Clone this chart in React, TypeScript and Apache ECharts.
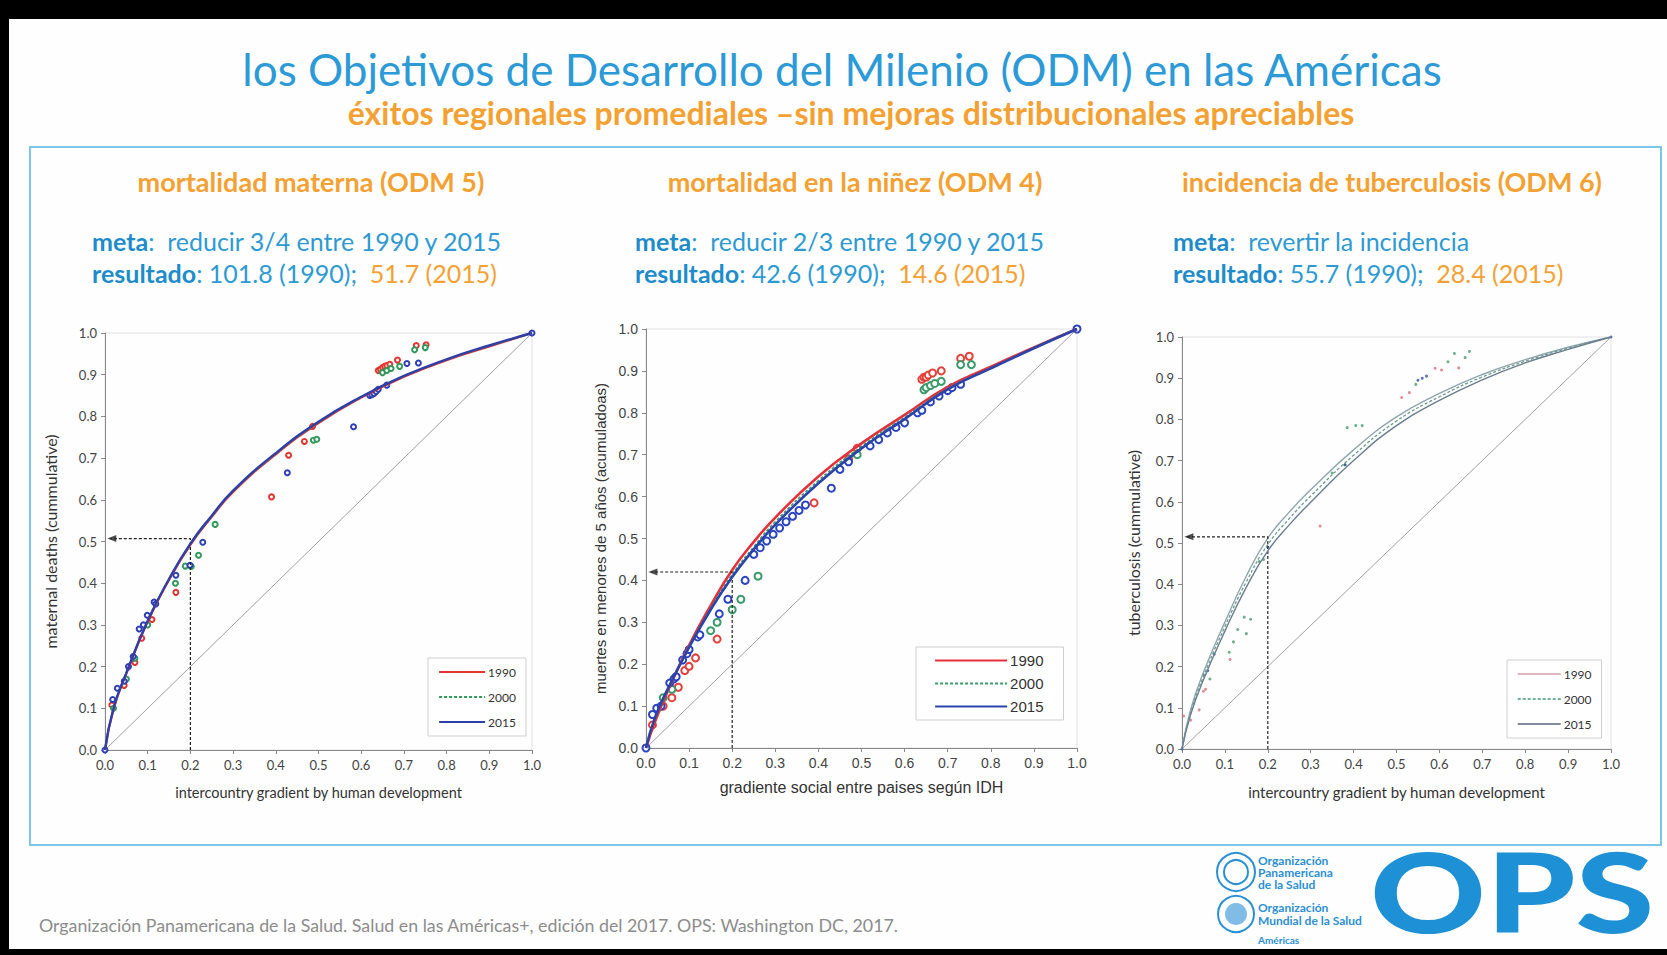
import React, { useEffect, useRef } from "react";
import * as echarts from "echarts";

const FONT = "Lato, 'Open Sans', sans-serif";
const ARIAL = "'Liberation Sans', Arial, sans-serif";

const years = ["1990", "2000", "2015"];
const curveX = [0, 0.02, 0.05, 0.1, 0.15, 0.2, 0.25, 0.3, 0.4, 0.5, 0.6, 0.7, 0.8, 0.9, 1];

// chart 1: maternal mortality
const mm1990 = [0, 0.098, 0.183, 0.308, 0.408, 0.492, 0.559, 0.619, 0.709, 0.784, 0.845, 0.895, 0.935, 0.968, 1];
const mm2000 = [0, 0.099, 0.184, 0.309, 0.409, 0.493, 0.56, 0.62, 0.71, 0.785, 0.846, 0.896, 0.936, 0.969, 1];
const mm2015 = [0, 0.1, 0.185, 0.31, 0.41, 0.495, 0.562, 0.622, 0.712, 0.787, 0.847, 0.897, 0.937, 0.97, 1];
const mmPts1990 = [[0.016, 0.108], [0.045, 0.155], [0.07, 0.21], [0.086, 0.268], [0.11, 0.313], [0.166, 0.378], [0.39, 0.607], [0.43, 0.707], [0.467, 0.74], [0.486, 0.776], [0.64, 0.91], [0.645, 0.913], [0.65, 0.917], [0.655, 0.92], [0.66, 0.922], [0.667, 0.925], [0.685, 0.935], [0.729, 0.97], [0.752, 0.972]];
const mmPts2000 = [[0.02, 0.1], [0.05, 0.17], [0.07, 0.22], [0.1, 0.3], [0.165, 0.4], [0.188, 0.441], [0.202, 0.44], [0.219, 0.467], [0.258, 0.541], [0.488, 0.743], [0.496, 0.745], [0.65, 0.905], [0.66, 0.91], [0.67, 0.915], [0.69, 0.92], [0.725, 0.96], [0.75, 0.965]];
const mmPts2015 = [[0, 0], [0.018, 0.121], [0.029, 0.148], [0.045, 0.165], [0.055, 0.2], [0.066, 0.224], [0.08, 0.29], [0.09, 0.3], [0.099, 0.323], [0.115, 0.355], [0.119, 0.35], [0.166, 0.419], [0.199, 0.443], [0.229, 0.498], [0.427, 0.665], [0.582, 0.775], [0.62, 0.85], [0.625, 0.852], [0.63, 0.855], [0.635, 0.86], [0.64, 0.865], [0.66, 0.875], [0.707, 0.927], [0.734, 0.928], [1, 1]];

// chart 2: child mortality
const cm1990 = [0, 0.06, 0.135, 0.245, 0.34, 0.425, 0.492, 0.55, 0.648, 0.727, 0.795, 0.862, 0.91, 0.956, 1];
const cm2000 = [0, 0.065, 0.137, 0.242, 0.334, 0.414, 0.48, 0.54, 0.638, 0.72, 0.789, 0.858, 0.907, 0.955, 1];
const cm2015 = [0, 0.07, 0.14, 0.24, 0.33, 0.408, 0.474, 0.533, 0.632, 0.715, 0.785, 0.856, 0.906, 0.954, 1];
const cmPts1990 = [[0.015, 0.055], [0.04, 0.1], [0.06, 0.12], [0.075, 0.145], [0.09, 0.185], [0.1, 0.195], [0.115, 0.215], [0.165, 0.26], [0.39, 0.585], [0.47, 0.69], [0.49, 0.715], [0.64, 0.88], [0.645, 0.885], [0.65, 0.885], [0.655, 0.89], [0.665, 0.895], [0.685, 0.9], [0.73, 0.93], [0.75, 0.935]];
const cmPts2000 = [[0.04, 0.12], [0.06, 0.14], [0.15, 0.28], [0.165, 0.3], [0.2, 0.33], [0.22, 0.355], [0.26, 0.41], [0.49, 0.7], [0.645, 0.855], [0.65, 0.86], [0.66, 0.865], [0.67, 0.87], [0.685, 0.875], [0.73, 0.915], [0.755, 0.915]];
const cmPts2015 = [[0, 0], [0.015, 0.08], [0.025, 0.095], [0.035, 0.1], [0.055, 0.155], [0.065, 0.165], [0.07, 0.17], [0.085, 0.21], [0.095, 0.225], [0.1, 0.235], [0.12, 0.265], [0.125, 0.27], [0.17, 0.32], [0.19, 0.355], [0.23, 0.4], [0.25, 0.462], [0.265, 0.478], [0.28, 0.494], [0.295, 0.51], [0.31, 0.525], [0.325, 0.54], [0.34, 0.553], [0.355, 0.567], [0.37, 0.58], [0.43, 0.62], [0.45, 0.665], [0.47, 0.683], [0.52, 0.721], [0.54, 0.736], [0.56, 0.752], [0.58, 0.765], [0.6, 0.776], [0.63, 0.8], [0.64, 0.806], [0.66, 0.826], [0.68, 0.84], [0.7, 0.853], [0.71, 0.86], [0.73, 0.868], [1, 1]];

// chart 3: tuberculosis
const tb1990 = [0, 0.095, 0.186, 0.308, 0.42, 0.512, 0.575, 0.629, 0.726, 0.806, 0.863, 0.909, 0.945, 0.975, 1];
const tb2000 = [0, 0.088, 0.176, 0.297, 0.406, 0.496, 0.559, 0.614, 0.713, 0.796, 0.855, 0.903, 0.941, 0.973, 1];
const tb2015 = [0, 0.083, 0.168, 0.286, 0.393, 0.481, 0.544, 0.599, 0.7, 0.785, 0.846, 0.896, 0.937, 0.97, 1];
const tbPts1990 = [[0.004, 0.08], [0.02, 0.07], [0.04, 0.095], [0.05, 0.14], [0.055, 0.145], [0.112, 0.217], [0.322, 0.541], [0.512, 0.853], [0.53, 0.865], [0.59, 0.924], [0.605, 0.92], [0.645, 0.925]];
const tbPts2000 = [[0.065, 0.17], [0.11, 0.235], [0.12, 0.26], [0.13, 0.29], [0.145, 0.32], [0.15, 0.28], [0.16, 0.315], [0.18, 0.455], [0.19, 0.46], [0.35, 0.67], [0.38, 0.69], [0.385, 0.78], [0.405, 0.785], [0.42, 0.785], [0.545, 0.885], [0.62, 0.94], [0.635, 0.96], [0.66, 0.95], [0.67, 0.965]];
const tbPts2015 = [[0, 0], [0.05, 0.18], [0.06, 0.19], [0.075, 0.23], [0.2, 0.49], [0.38, 0.69], [0.55, 0.895], [0.56, 0.9], [0.57, 0.905], [1, 1]];

const guideY = [0.507, 0.42, 0.515];

const zip = (xs: number[], ys: number[]) => xs.map((x, i) => [x, ys[i]]);

export default function App() {
  const ref = useRef<HTMLDivElement>(null);
  useEffect(() => {
    document.body.style.margin = "0";
    const chart = echarts.init(ref.current!, null, { renderer: "svg" });

    const grids = [
      { left: 105, top: 333, width: 427, height: 417 },
      { left: 646, top: 329, width: 431, height: 419 },
      { left: 1182, top: 337, width: 429, height: 412 },
    ];
    const axisFont = [FONT, ARIAL, FONT];
    const axisSize = [13, 14, 13];
    const xNames = ["intercountry gradient by human development", "gradiente social entre paises según IDH", "intercountry gradient by human development"];
    const yNames = ["maternal deaths (cummulative)", "muertes en menores de 5 años (acumuladoas)", "tuberculosis (cummulative)"];
    const yNameSize = [16, 15, 16];
    const xNameSize = [14.5, 16, 15];
    const yGaps = [47, 38, 41];
    const xGaps = [35, 31, 35];

    const xAxis = grids.map((_, i) => ({
      type: "value", gridIndex: i, min: 0, max: 1, interval: 0.1,
      name: xNames[i], nameLocation: "middle", nameGap: xGaps[i],
      nameTextStyle: { fontFamily: axisFont[i], fontSize: xNameSize[i], color: "#333" },
      axisLine: { show: true, lineStyle: { color: "#888", width: 1 } },
      axisTick: { show: true, length: 4, lineStyle: { color: "#888" } },
      axisLabel: { formatter: (v: number) => v.toFixed(1), fontFamily: axisFont[i], fontSize: axisSize[i], color: "#444", margin: 8 },
      splitLine: { show: false },
    }));
    const yAxis = grids.map((_, i) => ({
      type: "value", gridIndex: i, min: 0, max: 1, interval: 0.1,
      name: yNames[i], nameLocation: "middle", nameGap: yGaps[i],
      nameTextStyle: { fontFamily: axisFont[i], fontSize: yNameSize[i], color: "#333" },
      axisLine: { show: true, lineStyle: { color: "#888", width: 1 } },
      axisTick: { show: true, length: 4, lineStyle: { color: "#888" } },
      axisLabel: { formatter: (v: number) => v.toFixed(1), fontFamily: axisFont[i], fontSize: axisSize[i], color: "#444", margin: 8 },
      splitLine: { show: false },
    }));

    const curveSets = [
      [mm1990, mm2000, mm2015],
      [cm1990, cm2000, cm2015],
      [tb1990, tb2000, tb2015],
    ];
    const ptSets = [
      [mmPts1990, mmPts2000, mmPts2015],
      [cmPts1990, cmPts2000, cmPts2015],
      [tbPts1990, tbPts2000, tbPts2015],
    ];
    const curveColors = [
      ["#E3342F", "#2F9A5A", "#2E3FA8"],
      ["#E3303A", "#3A9A6A", "#2A44AA"],
      ["#8FA6AE", "#6C9C8C", "#6A7E92"],
    ];
    const legendColors = [
      ["#E3342F", "#2F9A5A", "#2E3FA8"],
      ["#E3303A", "#3A9A6A", "#2A44AA"],
      ["#D4A0AA", "#3F9A70", "#5A6480"],
    ];
    const ptColors = [
      ["#E3342F", "#2F9A5A", "#2E3FB8"],
      ["#E3403A", "#3A9A6A", "#2A44C0"],
      ["#D9707A", "#4A9A6A", "#3050A0"],
    ];
    const curveWidths = [[2.2, 1.4, 2.4], [2.6, 1.6, 2.6], [1.4, 1.3, 1.4]];
    const ptSizes = [5, 7, 3];
    const suffix = ["", " ", "  "];

    const series: any[] = [];
    grids.forEach((_, g) => {
      series.push({
        type: "line", name: "diag" + g, xAxisIndex: g, yAxisIndex: g, data: [[0, 0], [1, 1]],
        symbol: "none", silent: true, lineStyle: { color: "#A0A0A0", width: 1 }, z: 1,
      });
      series.push({
        type: "line", name: "guide" + g, xAxisIndex: g, yAxisIndex: g,
        data: [[0.2, 0], [0.2, guideY[g]], [0.012, guideY[g]]],
        symbol: "none", silent: true, lineStyle: { color: "#222", width: 1.2, type: [3, 2] }, z: 4,
      });
      series.push({
        type: "scatter", name: "arrow" + g, xAxisIndex: g, yAxisIndex: g,
        data: [[0.016, guideY[g]]], symbol: "triangle", symbolRotate: 90, symbolSize: [7, 9],
        itemStyle: { color: "#222" }, silent: true, z: 4,
      });
      years.forEach((y, k) => {
        series.push({
          type: "scatter", name: "pts" + g + y, xAxisIndex: g, yAxisIndex: g,
          data: ptSets[g][k], symbol: g === 2 ? "circle" : "emptyCircle", symbolSize: ptSizes[g],
          itemStyle: { color: ptColors[g][k], borderWidth: g === 2 ? 0 : g === 1 ? 1.6 : 1.3, opacity: g === 2 ? 0.8 : 1 },
          silent: true, z: 2,
        });
      });
      years.forEach((y, k) => {
        series.push({
          type: "line", name: y + suffix[g], xAxisIndex: g, yAxisIndex: g,
          data: zip(curveX, curveSets[g][k]), symbol: "none", smooth: 0.5,
          lineStyle: { color: curveColors[g][k], width: curveWidths[g][k], type: k === 1 ? [3, 2] : "solid" },
          itemStyle: { color: curveColors[g][k] },
          z: 3 + k, silent: true,
        });
      });
    });

    const legendBase = (g: number, left: number, top: number, itemWidth: number, fontSize: number, itemGap: number, padding: number[], font: string) => ({
      data: years.map((y, k) => ({
        name: y + suffix[g],
        lineStyle: { color: legendColors[g][k], width: g === 2 ? 1.4 : 2.2, type: k === 1 ? [3, 2] : "solid" },
      })),
      orient: "vertical", left, top, itemWidth, itemHeight: 10, itemGap, padding,
      itemStyle: { opacity: 0 },
      backgroundColor: "#fff", borderColor: "#CFCFCF", borderWidth: 1, borderRadius: 0,
      formatter: (n: string) => n.trim(), selectedMode: false,
      textStyle: { fontFamily: font, fontSize, color: "#333", padding: [0, 0, 0, -2] },
    });

    const legend = [
      legendBase(0, 428, 658, 46, 12, 13, [8, 10, 8, 10], FONT),
      legendBase(1, 916, 647, 72, 15, 8, [6, 20, 6, 18], ARIAL),
      legendBase(2, 1507, 660, 43, 12, 13, [8, 10, 8, 10], FONT),
    ];

    const blue = "#2C9AD6";
    const orange = "#F4A133";
    const MS = 25;
    const metaRich = {
      b: { fontFamily: FONT, fontSize: MS, fontWeight: "bold", fill: "#1E8CCB", lineHeight: 32 },
      n: { fontFamily: FONT, fontSize: MS, fill: "#2E9AD3", lineHeight: 32 },
      o: { fontFamily: FONT, fontSize: MS, fill: orange, lineHeight: 32 },
    };
    const metas = [
      { x: 92, t: "{b|meta}{n|:  reducir 3/4 entre 1990 y 2015}\n{b|resultado}{n|: 101.8 (1990);  }{o|51.7 (2015)}" },
      { x: 635, t: "{b|meta}{n|:  reducir 2/3 entre 1990 y 2015}\n{b|resultado}{n|: 42.6 (1990);  }{o|14.6 (2015)}" },
      { x: 1173, t: "{b|meta}{n|:  revertir la incidencia}\n{b|resultado}{n|: 55.7 (1990);  }{o|28.4 (2015)}" },
    ];
    const panelTitles = [
      { x: 311, t: "mortalidad materna (ODM 5)" },
      { x: 855, t: "mortalidad en la niñez (ODM 4)" },
      { x: 1392, t: "incidencia de tuberculosis (ODM 6)" },
    ];

    const txt = (x: number, y: number, text: string, font: string, fill: string, align = "center", extra: any = {}) => ({
      type: "text", x, y, silent: true,
      style: { text, font, fill, align, verticalAlign: "middle", textAlign: align, textVerticalAlign: "middle", ...extra },
    });

    const graphic: any[] = [
      { type: "rect", shape: { x: 0, y: 0, width: 1667, height: 955 }, style: { fill: "#FEFEFE" }, z: -10, silent: true },
      { type: "rect", shape: { x: 30, y: 147, width: 1631, height: 698 }, style: { fill: "none", stroke: "#7CC6E8", lineWidth: 2 }, silent: true },
      txt(842, 69, "los Objetivos de Desarrollo del Milenio (ODM) en las Américas", `44px ${FONT}`, blue),
      txt(851, 112, "éxitos regionales promediales –sin mejoras distribucionales apreciables", `bold 32px ${FONT}`, orange),
      ...panelTitles.map((p) => txt(p.x, 181, p.t, `bold 27px ${FONT}`, orange)),
      ...metas.map((m) => ({
        type: "text", x: m.x, y: 257, silent: true,
        style: { text: m.t, rich: metaRich, align: "left", verticalAlign: "middle", textAlign: "left", textVerticalAlign: "middle", font: `${MS}px ${FONT}` },
      })),
      txt(39, 925, "Organización Panamericana de la Salud. Salud en las Américas+, edición del 2017. OPS: Washington DC, 2017.", `17.8px ${FONT}`, "#8C8C8C", "left"),
      // logos
      { type: "circle", shape: { cx: 1236, cy: 872, r: 19 }, style: { fill: "#fff", stroke: "#2B8FD3", lineWidth: 2 }, silent: true },
      { type: "circle", shape: { cx: 1236, cy: 872, r: 12 }, style: { fill: "#fff", stroke: "#2B8FD3", lineWidth: 2 }, silent: true },
      { type: "circle", shape: { cx: 1236, cy: 914, r: 18 }, style: { fill: "#fff", stroke: "#2B8FD3", lineWidth: 2 }, silent: true },
      { type: "circle", shape: { cx: 1236, cy: 914, r: 11 }, style: { fill: "#2B8FD3", opacity: 0.6 }, silent: true },
      {
        type: "text", x: 1258, y: 872, silent: true,
        style: { text: "Organización\nPanamericana\nde la Salud", font: `bold 12px ${FONT}`, fill: "#2B8FD3", lineHeight: 12, align: "left", verticalAlign: "middle", textAlign: "left", textVerticalAlign: "middle" },
      },
      {
        type: "text", x: 1258, y: 914, silent: true,
        style: { text: "Organización\nMundial de la Salud", font: `bold 12px ${FONT}`, fill: "#2B8FD3", lineHeight: 13, align: "left", verticalAlign: "middle", textAlign: "left", textVerticalAlign: "middle" },
      },
      txt(1258, 940, "Américas", `bold 10px ${FONT}`, "#2B8FD3", "left"),
      {
        type: "text", x: 1370, y: 890, scaleX: 1.3, silent: true,
        style: { text: "OPS", font: `900 110px ${FONT}`, lineHeight: 110, fill: "#1E90D6", align: "left", verticalAlign: "middle", textAlign: "left", textVerticalAlign: "middle" },
      },
      { type: "rect", shape: { x: 0, y: 0, width: 1667, height: 19 }, style: { fill: "#000" }, silent: true, z: 100 },
      { type: "rect", shape: { x: 0, y: 0, width: 9, height: 955 }, style: { fill: "#000" }, silent: true, z: 100 },
      { type: "rect", shape: { x: 0, y: 949, width: 1667, height: 6 }, style: { fill: "#000" }, silent: true, z: 100 },
    ];

    chart.setOption({
      animation: false,
      backgroundColor: "#FEFEFE",
      grid: grids.map((g) => ({ ...g, show: true, borderColor: "#E2E2E2", borderWidth: 1, backgroundColor: "transparent" })),
      xAxis, yAxis, series, legend, graphic,
    });
    return () => chart.dispose();
  }, []);
  return <div ref={ref} style={{ position: "fixed", left: 0, top: 0, width: 1667, height: 955 }} />;
}
